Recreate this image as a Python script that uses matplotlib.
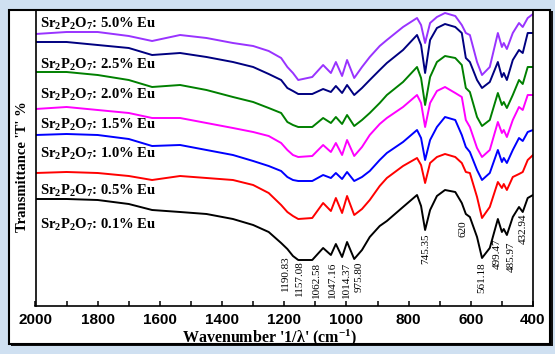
import matplotlib
matplotlib.use("Agg")
import matplotlib.pyplot as plt
from matplotlib.patches import Rectangle
from matplotlib.ticker import MultipleLocator

plt.rcParams['mathtext.fontset'] = 'custom'
plt.rcParams['mathtext.rm'] = 'Liberation Serif:bold'
plt.rcParams['mathtext.it'] = 'Liberation Serif:bold'
plt.rcParams['mathtext.bf'] = 'Liberation Serif:bold'

# wavenumber grid (cm^-1)
wavenumber = [2000, 1900, 1800, 1700, 1625, 1535, 1450, 1365, 1300, 1250,
              1210, 1190, 1172, 1155, 1110, 1075, 1050, 1034, 1014, 998,
              975, 950, 925, 893, 870, 818, 773, 760, 747, 731,
              709, 683, 650, 629, 616, 603, 580, 564, 539, 513,
              500, 494, 484, 465, 445, 433, 417, 400]

# transmittance (arbitrary units, stacked)
t_01 = [107, 107, 106, 102, 96, 94, 92, 87, 81, 74,
        63, 57, 50, 46, 46, 58, 51, 62, 49, 64,
        47, 56, 69, 80, 85, 99, 111, 100, 76, 96,
        110, 116, 114, 103, 92, 89, 69, 48, 58, 87,
        74, 77, 71, 89, 99, 94, 108, 111]
t_05 = [133, 134, 133, 130, 126, 130, 128, 126, 121, 113,
        101, 94, 90, 87, 88, 103, 95, 108, 93, 110,
        91, 97, 106, 120, 128, 140, 148, 141, 123, 143,
        149, 152, 149, 143, 134, 133, 109, 88, 99, 124,
        118, 122, 116, 129, 132, 134, 146, 151]
t_10 = [171, 172, 171, 167, 160, 161, 156, 151, 145, 140,
        135, 129, 126, 125, 125, 131, 128, 133, 127, 134,
        125, 129, 135, 146, 153, 164, 176, 168, 146, 166,
        179, 189, 186, 171, 159, 154, 136, 126, 133, 156,
        144, 148, 143, 156, 168, 165, 174, 176]
t_15 = [197, 199, 196, 193, 188, 188, 183, 178, 174, 170,
        163, 156, 151, 149, 150, 161, 154, 163, 151, 166,
        150, 159, 171, 182, 188, 199, 211, 203, 179, 203,
        215, 219, 213, 209, 186, 179, 158, 149, 156, 184,
        173, 176, 169, 186, 199, 196, 211, 211]
t_20 = [234, 234, 231, 226, 219, 221, 216, 209, 204, 198,
        193, 184, 181, 179, 179, 188, 183, 189, 182, 191,
        180, 186, 193, 203, 211, 224, 239, 228, 201, 229,
        244, 250, 248, 241, 218, 214, 189, 180, 186, 213,
        201, 204, 198, 211, 226, 222, 239, 239]
t_25 = [264, 264, 261, 258, 251, 253, 249, 244, 239, 232,
        226, 218, 215, 212, 212, 217, 214, 220, 213, 221,
        211, 218, 226, 236, 243, 256, 271, 261, 233, 266,
        278, 282, 279, 273, 248, 244, 226, 218, 224, 244,
        229, 233, 226, 246, 256, 253, 273, 273]
t_50 = [272, 274, 274, 270, 265, 271, 268, 263, 260, 255,
        248, 239, 233, 226, 229, 241, 233, 244, 230, 246,
        228, 239, 249, 260, 266, 279, 288, 281, 263, 283,
        289, 293, 290, 281, 273, 271, 244, 231, 239, 273,
        259, 263, 257, 273, 283, 279, 288, 292]

series = [t_01, t_05, t_10, t_15, t_20, t_25, t_50]
colors = ['#000000', '#ff0000', '#0000ff', '#ff00ff', '#008000', '#000080', '#9933ff']
labels = ['0.1', '0.5', '1.0', '1.5', '2.0', '2.5', '5.0']
label_y = [0.262, 0.377, 0.500, 0.597, 0.700, 0.800, 0.940]

peak_text = ['1190.83', '1157.08', '1062.58', '1047.16', '1014.37', '975.80',
             '745.35', '620', '561.18', '499.47', '485.97', '432.94']
peak_text_x = [1197, 1150, 1096, 1046, 1000, 958, 745, 626, 565, 515, 471, 430]
peak_text_top = [51, 46, 44, 44, 44, 44, 73, 86, 44, 68, 65, 93]

fig = plt.figure(figsize=(5.55, 3.54), dpi=100)
fig.patch.set_facecolor('#cfe0f1')

# frame
fig.patches.append(Rectangle((11 / 555, 1 - 346 / 354), 542 / 555, 335 / 354,
                             transform=fig.transFigure, facecolor='#111111',
                             edgecolor='none', zorder=-10))
fig.patches.append(Rectangle((9 / 555, 1 - 344 / 354), 541 / 555, 334 / 354,
                             transform=fig.transFigure, facecolor='white',
                             edgecolor='black', linewidth=1.5, zorder=-5))

ax = fig.add_axes([35.5 / 555, 1 - 306 / 354, 497.5 / 555, 296 / 354])
ax.set_facecolor('none')

for t, c in zip(series, colors):
    ax.plot(wavenumber, t, color=c, lw=1.4)

for lab, yy in zip(labels, label_y):
    ax.text(0.009, yy, 'Sr$_2$P$_2$O$_7$: ' + lab + '% Eu', transform=ax.transAxes,
            fontsize=10.5, fontweight='bold', family='Liberation Serif',
            ha='left', va='baseline')

for s, xx, yy in zip(peak_text, peak_text_x, peak_text_top):
    ax.text(xx, yy, s, rotation=90, ha='center', va='top', fontsize=8,
            family='Liberation Serif')

ax.set_xlim(2000, 400)
ax.set_ylim(0, 296)
ax.xaxis.set_major_locator(MultipleLocator(200))
ax.xaxis.set_minor_locator(MultipleLocator(100))
ax.tick_params(axis='x', which='both', direction='in', length=3.5, width=1.1,
               pad=5, top=False)
ax.tick_params(axis='y', left=False, labelleft=False)
for lab in ax.get_xticklabels():
    lab.set_fontfamily('Liberation Sans')
    lab.set_fontweight('bold')
    lab.set_fontsize(11)
for sp in ax.spines.values():
    sp.set_linewidth(1.2)

ax.set_xlabel("Wavenumber '1/λ' (cm$^{-1}$)", fontsize=11.5, fontweight='bold',
              family='Liberation Serif')
ax.xaxis.set_label_coords(0.471, -0.072)
ax.set_ylabel("Transmittance 'T' %", fontsize=10.5, fontweight='bold',
              family='Liberation Serif')
ax.yaxis.set_label_coords(-0.014, 0.47)

fig.savefig('out.png', dpi=100, facecolor=fig.get_facecolor())
